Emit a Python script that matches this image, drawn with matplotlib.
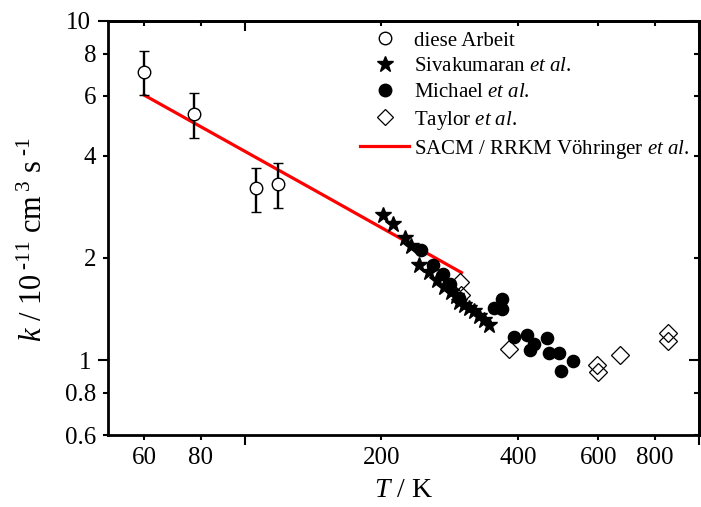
import matplotlib
matplotlib.use("Agg")
import matplotlib.pyplot as plt
from matplotlib.lines import Line2D
from matplotlib.ticker import FixedLocator, FixedFormatter, NullFormatter

plt.rcParams["font.family"] = ["Liberation Serif", "DejaVu Serif"]
plt.rcParams["mathtext.fontset"] = "custom"
plt.rcParams["mathtext.rm"] = "Liberation Serif"
plt.rcParams["mathtext.it"] = "Liberation Serif:italic"

# This work: temperature (K), rate constant (1e-11 cm^3 s^-1), uncertainty
T_this = [60.1, 77.4, 106.1, 118.4]
k_this = [7.07, 5.31, 3.21, 3.30]
k_this_err = [1.05, 0.80, 0.48, 0.50]

# Sivakumaran et al.
T_siva = [201.6, 212.0, 225.0, 232.6, 242.4, 254.0, 265.6, 274.0, 284.4, 292.0,
          297.0, 304.0, 312.0, 320.0, 328.0, 337.0, 345.0]
k_siva = [2.67, 2.51, 2.29, 2.17, 1.905, 1.82, 1.72, 1.64, 1.59, 1.54,
          1.485, 1.45, 1.42, 1.39, 1.35, 1.31, 1.27]

# Michael et al.
T_mich = [244.5, 259.6, 272.6, 283.0, 297.0, 354.0, 368.0, 369.0, 392.0, 419.0,
          424.0, 433.0, 463.0, 467.0, 492.0, 497.0, 528.0]
k_mich = [2.11, 1.905, 1.79, 1.68, 1.52, 1.42, 1.41, 1.51, 1.17, 1.185,
          1.07, 1.115, 1.16, 1.05, 1.046, 0.928, 0.995]

# Taylor et al.
T_tay = [298.0, 299.4, 382.0, 597.0, 600.0, 671.0, 856.0, 856.0]
k_tay = [1.70, 1.55, 1.08, 0.967, 0.924, 1.035, 1.20, 1.14]

# SACM / RRKM calculation (Vöhringer et al.)
T_model = [60.0, 146.5, 300.0]
k_model = [6.04, 3.10, 1.81]

x_ticks = [60, 80, 200, 400, 600, 800]
x_major = [100, 1000]
y_ticks = [0.6, 0.8, 2, 4, 6, 8]
y_major = [1, 10]
y_tick_labels = ["0.6", "0.8", "2", "4", "6", "8"]
y_major_labels = ["1", "10"]

W, H = 701, 507
fig = plt.figure(figsize=(W / 100, H / 100), dpi=100)
left, right, top, bottom = 108, 699, 20.7, 435.3
ax = fig.add_axes([left / W, 1 - bottom / H, (right - left) / W, (bottom - top) / H])

ax.set_xscale("log")
ax.set_yscale("log")
ax.set_xlim(50, 1000)
ax.set_ylim(0.6, 10)

ax.plot(T_model, k_model, color="#ff0000", lw=2.3, zorder=2)
ax.errorbar(T_this, k_this, yerr=k_this_err, fmt="o", ms=9.0, mfc="white", mec="black",
            mew=1.0, ecolor="black", elinewidth=1.7, capsize=3.4, capthick=1.7, zorder=3)
ax.plot(T_mich, k_mich, "o", ms=8.8, color="black", zorder=4)
ax.plot(T_siva, k_siva, "*", ms=12, color="black", zorder=5)
ax.plot(T_tay, k_tay, "D", ms=8.8, mfc="none", mec="black", mew=0.9, zorder=6)

for sp in ax.spines.values():
    sp.set_linewidth(2.0)

ax.xaxis.set_major_locator(FixedLocator(x_major))
ax.xaxis.set_major_formatter(NullFormatter())
ax.xaxis.set_minor_locator(FixedLocator(x_ticks))
ax.xaxis.set_minor_formatter(FixedFormatter([str(v) for v in x_ticks]))
ax.yaxis.set_major_locator(FixedLocator(y_major))
ax.yaxis.set_major_formatter(FixedFormatter(y_major_labels))
ax.yaxis.set_minor_locator(FixedLocator(y_ticks))
ax.yaxis.set_minor_formatter(FixedFormatter(y_tick_labels))

ax.tick_params(which="both", direction="out", width=1.5, labelsize=18, pad=5)
ax.tick_params(which="major", length=7.2)
ax.tick_params(which="minor", length=3.6)

# mirrored ticks on top and right, pointing inward
top_ax = ax.secondary_xaxis("top")
top_ax.xaxis.set_major_locator(FixedLocator(x_major))
top_ax.xaxis.set_minor_locator(FixedLocator(x_ticks))
top_ax.xaxis.set_major_formatter(NullFormatter())
top_ax.xaxis.set_minor_formatter(NullFormatter())
top_ax.tick_params(which="both", direction="in", width=1.5)
top_ax.tick_params(which="major", length=7.2)
top_ax.tick_params(which="minor", length=3.6)
top_ax.spines["top"].set_linewidth(2.0)

right_ax = ax.secondary_yaxis("right")
right_ax.yaxis.set_major_locator(FixedLocator(y_major))
right_ax.yaxis.set_minor_locator(FixedLocator(y_ticks))
right_ax.yaxis.set_major_formatter(NullFormatter())
right_ax.yaxis.set_minor_formatter(NullFormatter())
right_ax.tick_params(which="both", direction="in", width=1.5)
right_ax.tick_params(which="major", length=7.2)
right_ax.tick_params(which="minor", length=3.6)
right_ax.spines["right"].set_linewidth(2.0)

ax.set_xlabel(r"$\mathit{T}$ / K", fontsize=20, labelpad=6)
ax.set_ylabel("$\\mathit{k}$ / 10$^{\\;\u2010 11}$ cm$^{\\;3}$ s$^{\\;\u20101}$",
              fontsize=22, rotation=90)
ax.yaxis.set_label_coords(-0.1, 0.472)

handles = [
    Line2D([], [], ls="none", marker="o", ms=9, mfc="white", mec="black", mew=1.0),
    Line2D([], [], ls="none", marker="*", ms=12, color="black"),
    Line2D([], [], ls="none", marker="o", ms=9, color="black"),
    Line2D([], [], ls="none", marker="D", ms=8.5, mfc="none", mec="black", mew=0.9),
    Line2D([], [], color="#ff0000", lw=2.3),
]
labels = [
    "diese Arbeit",
    r"Sivakumaran $\mathit{et\ al.}$",
    r"Michael $\mathit{et\ al.}$",
    r"Taylor $\mathit{et\ al.}$",
    r"SACM / RRKM Vöhringer $\mathit{et\ al.}$",
]
fig.legend(handles, labels, loc="upper left", bbox_to_anchor=(360 / W, 1 - 31 / H),
           frameon=False, fontsize=15, handlelength=2.36, handletextpad=0.25,
           labelspacing=0.30, borderpad=0, borderaxespad=0)

fig.savefig("out.png", dpi=100)
